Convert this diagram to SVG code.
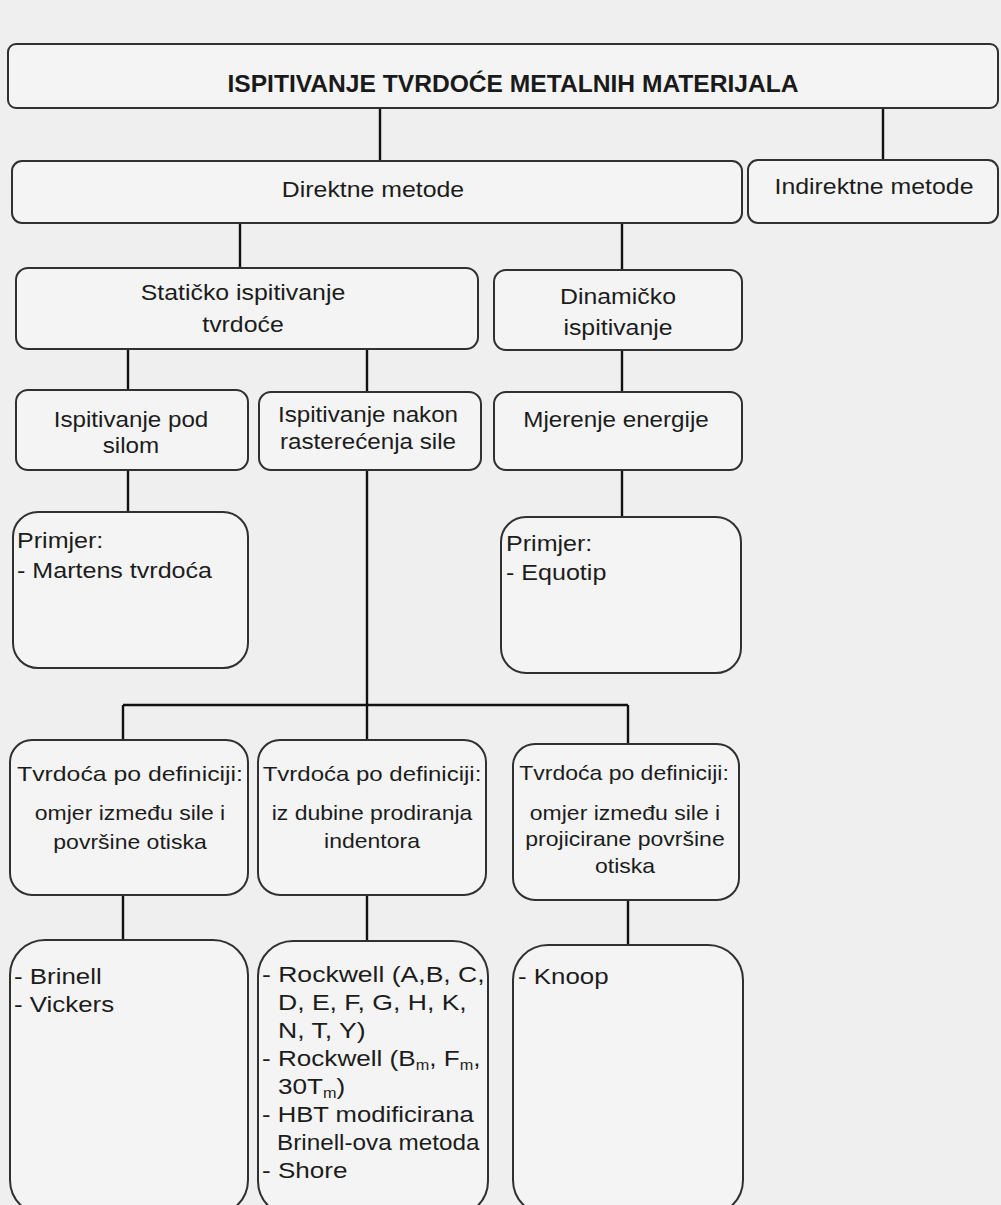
<svg xmlns="http://www.w3.org/2000/svg" width="1001" height="1205" viewBox="0 0 1001 1205">
<style>
.bg{fill:#efefef}
.box{fill:#f4f4f4;stroke:#303030;stroke-width:2}
.con{stroke:#111;stroke-width:2.4;fill:none}
.t{font-family:"Liberation Sans",Arial,sans-serif;font-size:22px;fill:#1c1c1c}
.s{font-size:20px}
.b{font-size:22.5px}
.title{font-family:"Liberation Sans",Arial,sans-serif;font-size:24.6px;font-weight:bold;fill:#1a1a1a}
</style>
<rect class="bg" x="0" y="0" width="1001" height="1205"/>
<g id="connectors">
<path class="con" d="M380 108V161M883 108V160M240 223V268M622 223V270M128 349V390M367 349V392M622 350V392M128 470V512M622 470V517M367 470V705M123 705H628M123 705V740M367 705V740M628 705V744M123 895V940M367 895V941M628 900V945"/>
</g>
<g id="n-root">
<rect class="box" x="8" y="44" width="990" height="64" rx="8"/>
<text class="title" x="513" y="92" text-anchor="middle">ISPITIVANJE TVRDOĆE METALNIH MATERIJALA</text>
</g>
<g id="n-direktne">
<rect class="box" x="12" y="161" width="730" height="62" rx="10"/>
<text class="t" text-anchor="middle" transform="translate(373 197) scale(1.13 1)">Direktne metode</text>
</g>
<g id="n-indirektne">
<rect class="box" x="748" y="160" width="250" height="63" rx="10"/>
<text class="t" text-anchor="middle" transform="translate(874 194) scale(1.13 1)">Indirektne metode</text>
</g>
<g id="n-staticko">
<rect class="box" x="16" y="268" width="462" height="81" rx="12"/>
<text class="t" text-anchor="middle" transform="translate(243 300) scale(1.13 1)">Statičko ispitivanje</text>
<text class="t" text-anchor="middle" transform="translate(243 332) scale(1.13 1)">tvrdoće</text>
</g>
<g id="n-dinamicko">
<rect class="box" x="494" y="270" width="248" height="80" rx="12"/>
<text class="t" text-anchor="middle" transform="translate(618 304) scale(1.13 1)">Dinamičko</text>
<text class="t" text-anchor="middle" transform="translate(618 335) scale(1.13 1)">ispitivanje</text>
</g>
<g id="n-podsilom">
<rect class="box" x="16" y="390" width="232" height="80" rx="12"/>
<text class="t" text-anchor="middle" transform="translate(131 427) scale(1.1 1)">Ispitivanje pod</text>
<text class="t" text-anchor="middle" transform="translate(131 453) scale(1.1 1)">silom</text>
</g>
<g id="n-nakon">
<rect class="box" x="259" y="392" width="222" height="78" rx="12"/>
<text class="t" text-anchor="middle" transform="translate(368 422) scale(1.1 1)">Ispitivanje nakon</text>
<text class="t" text-anchor="middle" transform="translate(368 449) scale(1.1 1)">rasterećenja sile</text>
</g>
<g id="n-mjerenje">
<rect class="box" x="494" y="392" width="248" height="78" rx="12"/>
<text class="t" text-anchor="middle" transform="translate(616 427) scale(1.1 1)">Mjerenje energije</text>
</g>
<g id="n-martens">
<rect class="box" x="13" y="512" width="235" height="156" rx="25"/>
<text class="t" transform="translate(17 548) scale(1.14 1)">Primjer:</text>
<text class="t" transform="translate(17 578) scale(1.14 1)">- Martens tvrdoća</text>
</g>
<g id="n-equotip">
<rect class="box" x="501" y="517" width="240" height="156" rx="25"/>
<text class="t" transform="translate(506 551) scale(1.14 1)">Primjer:</text>
<text class="t" transform="translate(506 580) scale(1.14 1)">- Equotip</text>
</g>
<g id="n-def1">
<rect class="box" x="10" y="740" width="238" height="155" rx="22"/>
<text class="t s" text-anchor="middle" transform="translate(130 781) scale(1.24 1)">Tvrdoća po definiciji:</text>
<text class="t s" text-anchor="middle" transform="translate(130 820) scale(1.15 1)">omjer između sile i</text>
<text class="t s" text-anchor="middle" transform="translate(130 849) scale(1.15 1)">površine otiska</text>
</g>
<g id="n-def2">
<rect class="box" x="258" y="740" width="228" height="155" rx="22"/>
<text class="t s" text-anchor="middle" transform="translate(372 781) scale(1.2 1)">Tvrdoća po definiciji:</text>
<text class="t s" text-anchor="middle" transform="translate(372 820) scale(1.15 1)">iz dubine prodiranja</text>
<text class="t s" text-anchor="middle" transform="translate(372 848) scale(1.15 1)">indentora</text>
</g>
<g id="n-def3">
<rect class="box" x="513" y="744" width="226" height="156" rx="22"/>
<text class="t s" text-anchor="middle" transform="translate(624 780) scale(1.15 1)">Tvrdoća po definiciji:</text>
<text class="t s" text-anchor="middle" transform="translate(625 820) scale(1.15 1)">omjer između sile i</text>
<text class="t s" text-anchor="middle" transform="translate(625 846) scale(1.15 1)">projicirane površine</text>
<text class="t s" text-anchor="middle" transform="translate(625 873) scale(1.15 1)">otiska</text>
</g>
<g id="n-brinell">
<rect class="box" x="10" y="940" width="238" height="275" rx="35"/>
<text class="t b" transform="translate(14 984) scale(1.15 1)">- Brinell</text>
<text class="t b" transform="translate(14 1012) scale(1.15 1)">- Vickers</text>
</g>
<g id="n-rockwell">
<rect class="box" x="258" y="941" width="230" height="275" rx="35"/>
<text class="t b" transform="translate(262 982) scale(1.18 1)">- Rockwell (A,B, C,</text>
<text class="t b" transform="translate(278 1010) scale(1.18 1)">D, E, F, G, H, K,</text>
<text class="t b" transform="translate(278 1038) scale(1.18 1)">N, T, Y)</text>
<text class="t b" transform="translate(262 1066) scale(1.16 1)">- Rockwell (B<tspan font-size="14" dy="4">m</tspan><tspan dy="-4">, F</tspan><tspan font-size="14" dy="4">m</tspan><tspan dy="-4">,</tspan></text>
<text class="t b" transform="translate(278 1094) scale(1.16 1)">30T<tspan font-size="14" dy="4">m</tspan><tspan dy="-4">)</tspan></text>
<text class="t b" transform="translate(262 1122) scale(1.14 1)">- HBT modificirana</text>
<text class="t b" transform="translate(277 1150) scale(1.08 1)">Brinell-ova metoda</text>
<text class="t b" transform="translate(262 1178) scale(1.16 1)">- Shore</text>
</g>
<g id="n-knoop">
<rect class="box" x="513" y="945" width="230" height="270" rx="35"/>
<text class="t b" transform="translate(518 984) scale(1.15 1)">- Knoop</text>
</g>
</svg>
